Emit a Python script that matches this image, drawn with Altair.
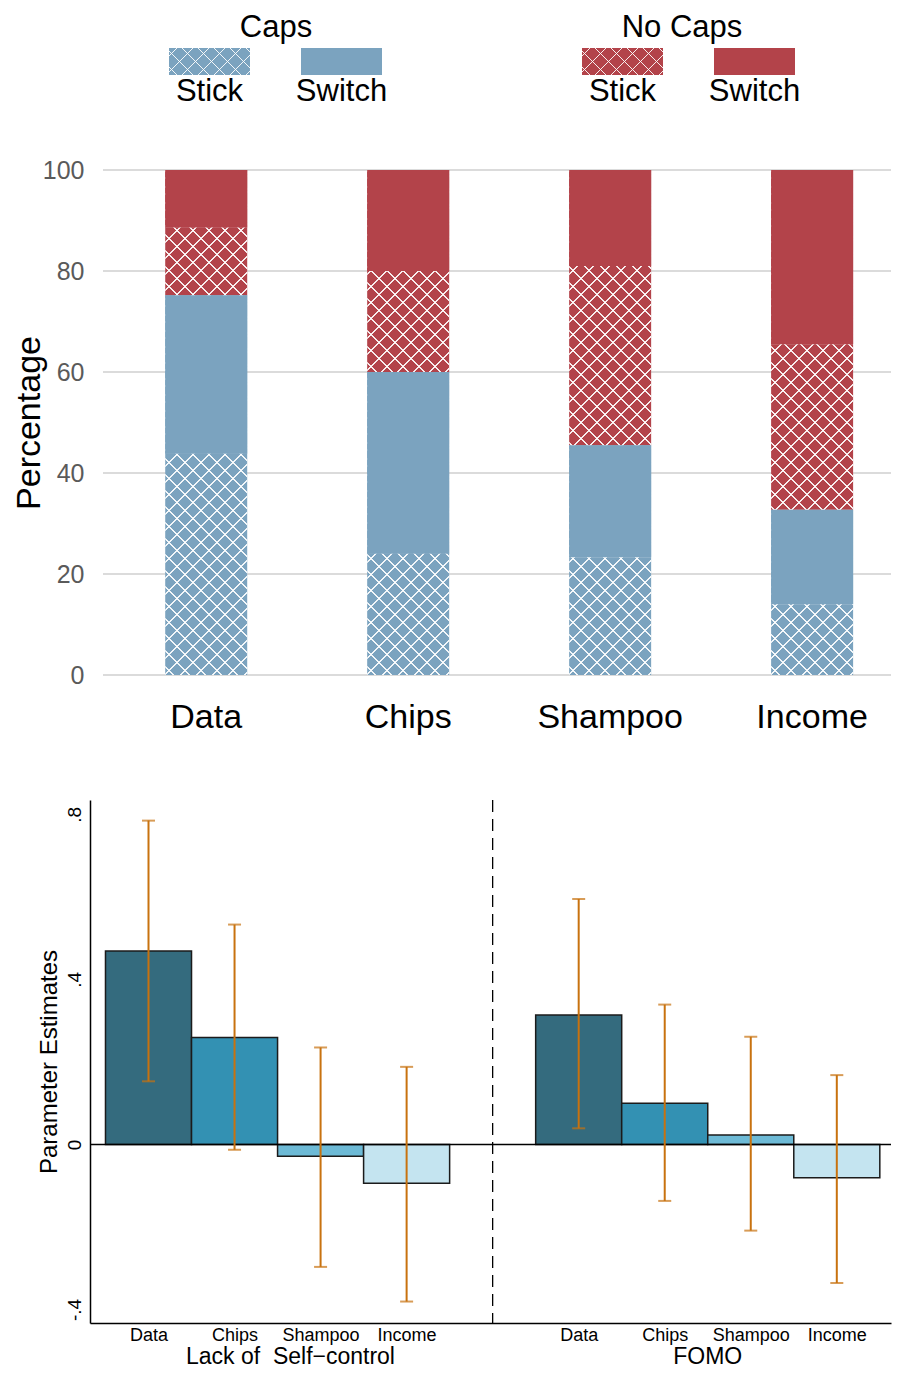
import math
import altair as alt
import pandas as pd

# ---------------- data: top panel (percent) ----------------
products = ["Data", "Chips", "Shampoo", "Income"]
caps_stick = [43.8, 24.0, 23.3, 14.0]
caps_switch = [31.4, 36.0, 22.2, 18.7]
nocaps_stick = [13.4, 20.0, 35.5, 32.8]
nocaps_switch = [11.4, 20.0, 19.0, 34.5]
segments = ["Caps Stick", "Caps Switch", "No Caps Stick", "No Caps Switch"]
pct_ticks = [0, 20, 40, 60, 80, 100]

legend_groups = ["Caps", "No Caps"]
legend_kinds = ["Stick", "Switch"]

# ---------------- data: bottom panel (estimates) ----------------
panel_names = ["Lack of\u00a0 Self\u2212control", "FOMO"]
est_self_control = [0.469, 0.259, -0.029, -0.094]
lo_self_control = [0.153, -0.013, -0.297, -0.381]
hi_self_control = [0.785, 0.533, 0.235, 0.188]
est_fomo = [0.314, 0.100, 0.023, -0.081]
lo_fomo = [0.039, -0.137, -0.209, -0.336]
hi_fomo = [0.595, 0.339, 0.261, 0.168]
est_ticks = [-0.4, 0, 0.4, 0.8]

# ---------------- styles ----------------
FONT = "Liberation Sans"
BLUE = "#7ba3bf"
RED = "#b3434a"
BAR_PALETTE = ["#346b7e", "#3391b3", "#6dbad6", "#c4e4f0"]
ERR = "#c8720f"
W = 801
TOP_H = 505
BOT_H = 523


def hatch_fill(w, h, direction, period=16.0, lw=1.3, offset=8.0):
    """Linear gradient of thin white stripes at 45 degrees for a w x h rect."""
    L = w + h
    c = L / (w * w + h * h)
    if direction == "a":
        x1, y1, x2, y2 = 0, 1, c * w, 1 - c * h
    else:
        x1, y1, x2, y2 = 0, 0, c * w, c * h
    clear = "rgba(255,255,255,0)"
    ink = "rgba(255,255,255,0.9)"
    half = lw * math.sqrt(2) / 2
    stops = [{"offset": 0, "color": clear}]
    p = offset
    while p < L:
        a = round(max(0.0, (p - half) / L), 6)
        b = round(min(1.0, (p + half) / L), 6)
        stops += [{"offset": a, "color": clear}, {"offset": a, "color": ink},
                  {"offset": b, "color": ink}, {"offset": b, "color": clear}]
        p += period
    stops.append({"offset": 1, "color": clear})
    return {"gradient": "linear", "x1": x1, "y1": y1, "x2": round(x2, 6),
            "y2": round(y2, 6), "stops": stops}


# ---------------- top panel ----------------
rows = []
for i, p in enumerate(products):
    for j, (seg, vals) in enumerate(zip(segments, [caps_stick, caps_switch, nocaps_stick, nocaps_switch])):
        rows.append(dict(product=p, segment=seg, kind=seg.split()[-1], order=j, value=vals[i]))
top_df = pd.DataFrame(rows)

xband = alt.Scale(domain=products, paddingInner=0.594, paddingOuter=0.28, align=0.665)
x_top = alt.X("product:N", scale=xband, title=None,
              axis=alt.Axis(labelFontSize=34, labelColor="black", labelPadding=25, ticks=False,
                            domain=False, labelAngle=0, grid=False))
yscale_top = alt.Scale(domain=[0, 100], nice=False, zero=False)
y_axis_top = alt.Axis(values=pct_ticks, labelFontSize=25, labelColor="#5a5a5a", labelPadding=6,
                      ticks=False, domain=False, grid=False, titleFontSize=34,
                      titleFontWeight="normal", titleColor="black", titlePadding=-4)


def y_top(field):
    return alt.Y(field, scale=yscale_top, axis=y_axis_top, title="Percentage")


seg_color = alt.Color("segment:N", scale=alt.Scale(domain=segments, range=[BLUE, BLUE, RED, RED]),
                      legend=None)

grid = alt.Chart(pd.DataFrame({"tick": pct_ticks})).mark_rule(color="#cfcfcf", strokeWidth=1.5).encode(
    y=y_top("tick:Q"), x=alt.value(13), x2=alt.value(W))

stack_base = alt.Chart(top_df).transform_stack(
    stack="value", groupby=["product"], as_=["y0", "y1"],
    sort=[alt.SortField("order", order="ascending")])

bars_all = stack_base.mark_bar().encode(x=x_top, y=y_top("y0:Q"), y2="y1:Q", color=seg_color)

totals = alt.Chart(top_df).transform_aggregate(total="sum(value)", groupby=["product"])
hatch_a = totals.mark_bar(fill=hatch_fill(82, TOP_H, "a"), strokeWidth=0).encode(x=x_top, y=y_top("total:Q"))
hatch_b = totals.mark_bar(fill=hatch_fill(82, TOP_H, "b"), strokeWidth=0).encode(x=x_top, y=y_top("total:Q"))

switch_bars = stack_base.transform_filter("datum.kind == 'Switch'").mark_bar().encode(
    x=x_top, y=y_top("y0:Q"), y2="y1:Q", color=seg_color)

top_view = alt.layer(grid, bars_all, hatch_a, hatch_b, switch_bars).properties(width=W, height=TOP_H)

# ---------------- legend ----------------
LH = 132
group_x0 = [79, 492]
kind_dx = [0, 132]
SW_W = 81
lg_rows = []
for gi, g in enumerate(legend_groups):
    for ki, k in enumerate(legend_kinds):
        x0 = group_x0[gi] + kind_dx[ki]
        lg_rows.append(dict(group=g, kind=k, segment=f"{g} {k}", x0=x0, x1=x0 + SW_W,
                            xc=x0 + SW_W / 2, sy0=40, sy1=67, ty=84))
lg_df = pd.DataFrame(lg_rows)
title_df = pd.DataFrame(dict(group=legend_groups, xc=[186, 592], ty=[20, 20]))

lx = alt.Scale(domain=[0, W], nice=False, zero=False)
ly = alt.Scale(domain=[0, LH], nice=False, zero=False, reverse=True)

swatches = alt.Chart(lg_df).mark_rect().encode(
    x=alt.X("x0:Q", scale=lx, axis=None), x2="x1:Q",
    y=alt.Y("sy0:Q", scale=ly, axis=None), y2="sy1:Q", color=seg_color)
sw_hatch_a = alt.Chart(lg_df).transform_filter("datum.kind == 'Stick'").mark_rect(
    fill=hatch_fill(SW_W, 27, "a"), strokeWidth=0).encode(
    x=alt.X("x0:Q", scale=lx, axis=None), x2="x1:Q",
    y=alt.Y("sy0:Q", scale=ly, axis=None), y2="sy1:Q")
sw_hatch_b = alt.Chart(lg_df).transform_filter("datum.kind == 'Stick'").mark_rect(
    fill=hatch_fill(SW_W, 27, "b"), strokeWidth=0).encode(
    x=alt.X("x0:Q", scale=lx, axis=None), x2="x1:Q",
    y=alt.Y("sy0:Q", scale=ly, axis=None), y2="sy1:Q")
kind_text = alt.Chart(lg_df).mark_text(fontSize=31, baseline="middle", color="black").encode(
    x=alt.X("xc:Q", scale=lx, axis=None), y=alt.Y("ty:Q", scale=ly, axis=None), text="kind:N")
group_text = alt.Chart(title_df).mark_text(fontSize=31, baseline="middle", color="black").encode(
    x=alt.X("xc:Q", scale=lx, axis=None), y=alt.Y("ty:Q", scale=ly, axis=None), text="group:N")

legend_view = alt.layer(swatches, sw_hatch_a, sw_hatch_b, kind_text, group_text).properties(width=W, height=LH)

# ---------------- spacer ----------------
spacer = alt.Chart(pd.DataFrame({"s": [0]})).mark_point(opacity=0).encode(
    x=alt.value(0), y=alt.value(0)).properties(width=W, height=65)

# ---------------- bottom panel ----------------
b_rows = []
for gi, (g, est, lo, hi) in enumerate(zip(panel_names, [est_self_control, est_fomo],
                                          [lo_self_control, lo_fomo], [hi_self_control, hi_fomo])):
    for i, p in enumerate(products):
        b_rows.append(dict(panel=g, product=p, pos=1 + i + 5 * gi, est=est[i], lo=lo[i], hi=hi[i]))
bdf = pd.DataFrame(b_rows)

positions = list(bdf["pos"])
sep_df = pd.DataFrame({"sep": [(bdf[bdf.panel == panel_names[0]].pos.max() +
                                bdf[bdf.panel == panel_names[1]].pos.min()) / 2]})
label_shift = [0.15, 0.0]
glab_df = pd.DataFrame({"panel": panel_names,
                        "gx": [bdf[bdf.panel == g].pos.mean() + s for g, s in zip(panel_names, label_shift)]})

x_b = alt.Scale(domain=[0.32, 9.63], nice=False, zero=False)
y_b = alt.Scale(domain=[-0.433, 0.835], nice=False, zero=False)
names_js = "[" + ",".join("'" + p + "'" for p in products) + "]"
xaxis_b = alt.Axis(values=positions, labelExpr=f"{names_js}[(round(datum.value) - 1) % 5]",
                   labelFontSize=18, labelColor="black", labelPadding=3, ticks=False,
                   domainColor="black", domainWidth=1.5, grid=False, labelAngle=0,
                   labelOverlap=False, labelFlush=False, labelBound=False)
yaxis_b = alt.Axis(values=est_ticks,
                   labelExpr="datum.value == 0 ? '0' : (datum.value < 0 ? '-' : '') + '.' + format(abs(datum.value) * 10, '.0f')",
                   labelAngle=270, labelFontSize=19, labelColor="black", labelPadding=6, ticks=False,
                   domainColor="black", domainWidth=1.5, grid=False, labelOverlap=False,
                   titleFontSize=24, titleFontWeight="normal", titleColor="black", titlePadding=4)


def xb(field):
    return alt.X(field, scale=x_b, axis=xaxis_b, title=None)


def yb(field):
    return alt.Y(field, scale=y_b, axis=yaxis_b, title="Parameter Estimates")


bars_b = alt.Chart(bdf).transform_calculate(x0="datum.pos - 0.5", x1="datum.pos + 0.5").mark_bar(
    stroke="#1b1b1b", strokeWidth=1.5).encode(
    x=xb("x0:Q"), x2="x1:Q", y=yb("est:Q"), y2=alt.datum(0),
    color=alt.Color("product:N", scale=alt.Scale(domain=products, range=BAR_PALETTE), legend=None))
zero_line = alt.Chart(pd.DataFrame({"zero": [0]})).mark_rule(color="black", strokeWidth=1.5).encode(
    y=yb("zero:Q"))
sep_line = alt.Chart(sep_df).mark_rule(color="black", strokeWidth=1.3, strokeDash=[12, 7]).encode(
    x=xb("sep:Q"))
err = alt.Chart(bdf).mark_rule(color=ERR, strokeWidth=2).encode(x=xb("pos:Q"), y=yb("lo:Q"), y2="hi:Q")
cap_lo = alt.Chart(bdf).mark_tick(color=ERR, orient="horizontal", size=13, thickness=2).encode(
    x=xb("pos:Q"), y=yb("lo:Q"))
cap_hi = alt.Chart(bdf).mark_tick(color=ERR, orient="horizontal", size=13, thickness=2).encode(
    x=xb("pos:Q"), y=yb("hi:Q"))
group_labels = alt.Chart(glab_df).mark_text(fontSize=23, color="black", baseline="alphabetic").encode(
    x=xb("gx:Q"), y=alt.value(BOT_H + 41), text="panel:N")

bottom_view = alt.layer(bars_b, sep_line, zero_line, err, cap_lo, cap_hi, group_labels).properties(
    width=W, height=BOT_H)

chart = alt.vconcat(legend_view, top_view, spacer, bottom_view, spacing=30, bounds="flush").resolve_scale(
    color="independent").properties(
    padding={"left": 4, "top": 0, "right": 0, "bottom": 1}).configure(font=FONT).configure_view(stroke=None)

chart.save("out.html", embed_options={"renderer": "svg", "actions": False})
